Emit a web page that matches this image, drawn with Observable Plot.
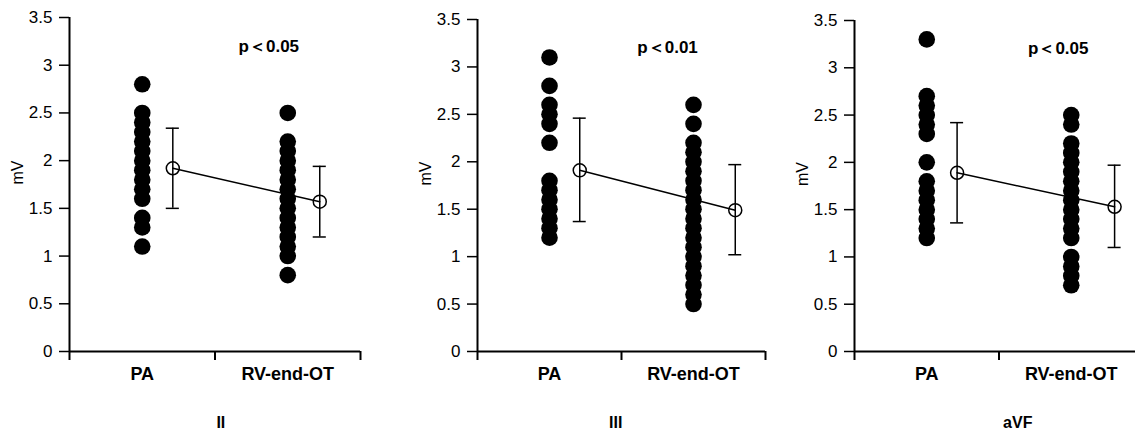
<!DOCTYPE html>
<html>
<head>
<meta charset="utf-8">
<script src="https://cdn.jsdelivr.net/npm/d3@7"></script>
<script src="https://cdn.jsdelivr.net/npm/@observablehq/plot@0.6"></script>
<style>
  html, body { margin: 0; padding: 0; background: #fff; }
  #wrap { position: relative; width: 1135px; height: 432px; overflow: hidden; background: #fff; }
  .panel { position: absolute; top: 0; }
</style>
</head>
<body>
<div id="wrap"></div>
<script>
// ---- data ----
const leads = ["II", "III", "aVF"];
const categories = ["PA", "RV-end-OT"];
const pLabels = ["p＜0.05", "p＜0.01", "p＜0.05"];
const yTicks = [0, 0.5, 1, 1.5, 2, 2.5, 3, 3.5];

const paII  = [2.8, 2.5, 2.4, 2.3, 2.2, 2.1, 2.0, 1.9, 1.8, 1.7, 1.6, 1.4, 1.3, 1.1];
const rvII  = [2.5, 2.2, 2.1, 2.0, 1.9, 1.8, 1.7, 1.6, 1.5, 1.4, 1.3, 1.2, 1.1, 1.0, 0.8];
const paIII = [3.1, 2.8, 2.6, 2.5, 2.4, 2.2, 1.8, 1.7, 1.6, 1.5, 1.4, 1.3, 1.2];
const rvIII = [2.6, 2.4, 2.2, 2.1, 2.0, 1.9, 1.8, 1.7, 1.6, 1.5, 1.4, 1.3, 1.2, 1.1, 1.0, 0.9, 0.8, 0.7, 0.6, 0.5];
const paAVF = [3.3, 2.7, 2.6, 2.5, 2.4, 2.3, 2.0, 1.8, 1.7, 1.6, 1.5, 1.4, 1.3, 1.2];
const rvAVF = [2.5, 2.4, 2.2, 2.1, 2.0, 1.9, 1.8, 1.7, 1.6, 1.5, 1.4, 1.3, 1.2, 1.0, 0.9, 0.8, 0.7];

const meanII  = [1.92, 1.57], upperII  = [2.34, 1.94], lowerII  = [1.50, 1.20];
const meanIII = [1.91, 1.49], upperIII = [2.46, 1.97], lowerIII = [1.37, 1.02];
const meanAVF = [1.89, 1.53], upperAVF = [2.42, 1.97], lowerAVF = [1.36, 1.10];

// ---- layout (per panel) ----
const layout = [
  {left: 0,   width: 380, marginLeft: 69, marginRight: 20, marginTop: 17, meanPos: [0.71, 1.72], leadX: 1.04, pX: 1.37},
  {left: 380, width: 395, marginLeft: 97, marginRight: 10, marginTop: 19, meanPos: [0.71, 1.79], leadX: 0.96, pX: 1.32},
  {left: 760, width: 383, marginLeft: 94, marginRight: 0,  marginTop: 20, meanPos: [0.71, 1.80], leadX: 1.13, pX: 1.41}
];

const groups = [
  {pa: paII,  rv: rvII,  mean: meanII,  up: upperII,  lo: lowerII},
  {pa: paIII, rv: rvIII, mean: meanIII, up: upperIII, lo: lowerIII},
  {pa: paAVF, rv: rvAVF, mean: meanAVF, up: upperAVF, lo: lowerAVF}
];

const font = "'Liberation Sans', Arial, Helvetica, sans-serif";
const capHalf = 0.045;
const wrap = document.getElementById("wrap");

leads.forEach((lead, i) => {
  const L = layout[i], G = groups[i];
  const dots = [
    ...G.pa.map(v => ({x: 0.5, y: v})),
    ...G.rv.map(v => ({x: 1.5, y: v}))
  ];
  const means = categories.map((c, k) => ({x: L.meanPos[k], y: G.mean[k], up: G.up[k], lo: G.lo[k]}));

  const chart = Plot.plot({
    width: L.width,
    height: 432,
    marginLeft: L.marginLeft,
    marginRight: L.marginRight,
    marginTop: L.marginTop,
    marginBottom: 81,
    style: {background: "transparent", overflow: "visible", maxWidth: "none", fontFamily: font, color: "#000"},
    x: {domain: [0, 2], axis: null},
    y: {domain: [0, 3.5], axis: null},
    marks: [
      Plot.axisY({ticks: yTicks, tickSize: 10, tickPadding: 7, tickFormat: d => String(d),
                  fontSize: 17, fill: "#000", stroke: "#000", strokeWidth: 1.5, label: null}),
      Plot.axisX({ticks: [0, 1, 2], tickSize: 9, tickFormat: () => "", stroke: "#000", strokeWidth: 2, label: null}),
      Plot.axisX({ticks: [0.5, 1.5], tickSize: 0, tickPadding: 16, tickFormat: d => categories[Math.floor(d)],
                  fontSize: 18, fontWeight: "bold", fill: "#000", label: null}),
      Plot.ruleX([0], {y1: 0, y2: 3.5, stroke: "#000", strokeWidth: 2}),
      Plot.ruleY([0], {x1: 0, x2: 2, stroke: "#000", strokeWidth: 2}),
      Plot.text(["mV"], {frameAnchor: "left", dx: -52, rotate: -90, fontSize: 16, fill: "#000"}),
      Plot.dot(dots, {x: "x", y: "y", r: 8.3, fill: "#000", stroke: "none"}),
      Plot.line(means, {x: "x", y: "y", stroke: "#000", strokeWidth: 1.5}),
      Plot.ruleX(means, {x: "x", y1: "lo", y2: "up", stroke: "#000", strokeWidth: 1.5}),
      Plot.ruleY(means, {y: "up", x1: d => d.x - capHalf, x2: d => d.x + capHalf, stroke: "#000", strokeWidth: 1.5}),
      Plot.ruleY(means, {y: "lo", x1: d => d.x - capHalf, x2: d => d.x + capHalf, stroke: "#000", strokeWidth: 1.5}),
      Plot.dot(means, {x: "x", y: "y", r: 6.5, fill: "none", stroke: "#000", strokeWidth: 1.5}),
      Plot.text([pLabels[i]], {x: L.pX, y: 3.2, fontSize: 17, fontWeight: "bold", fill: "#000"}),
      Plot.text([lead], {x: L.leadX, y: 0, dy: 71, fontSize: 16, fontWeight: "bold", fill: "#000"})
    ]
  });
  const div = document.createElement("div");
  div.className = "panel";
  div.style.left = L.left + "px";
  div.style.width = L.width + "px";
  div.appendChild(chart);
  wrap.appendChild(div);
});
</script>
</body>
</html>
